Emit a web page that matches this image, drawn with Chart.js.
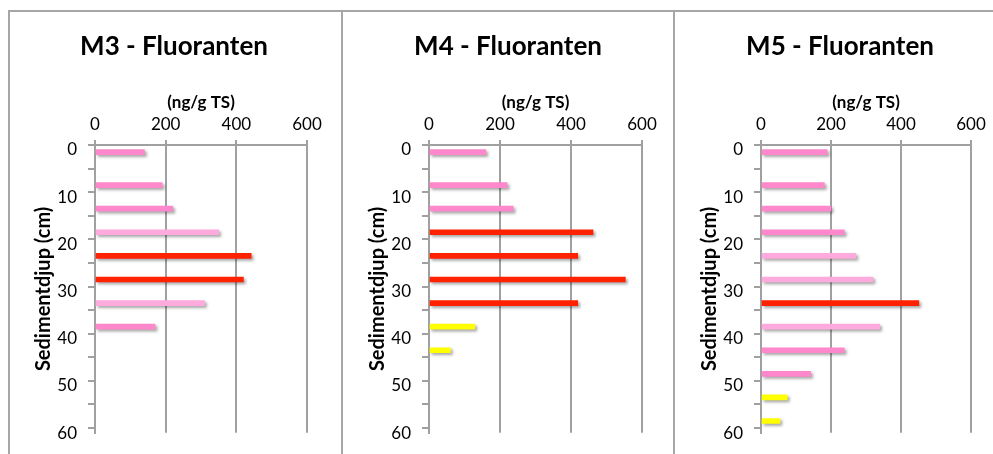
<!DOCTYPE html>
<html>
<head>
<meta charset="utf-8">
<script src="https://cdn.jsdelivr.net/npm/chart.js@4/dist/chart.umd.min.js"></script>
<style>
  html, body { margin: 0; padding: 0; background: #fff; overflow: hidden; width: 993px; height: 454px; }
  .panel { position: absolute; top: 0; width: 332px; height: 454px; }
  .line { position: absolute; background: #a6a6a6; }
</style>
</head>
<body>
<div class="panel" style="left:8px"><canvas id="c1" width="332" height="454"></canvas></div>
<div class="panel" style="left:342px"><canvas id="c2" width="332" height="454"></canvas></div>
<div class="panel" style="left:674px"><canvas id="c3" width="332" height="454"></canvas></div>
<div class="line" style="left:8px; top:10px; width:985px; height:2px"></div>
<div class="line" style="left:8px; top:10px; width:2px; height:444px"></div>
<div class="line" style="left:341px; top:10px; width:2px; height:444px"></div>
<div class="line" style="left:673px; top:10px; width:2px; height:444px"></div>
<script>
// ---- data ----
const titles = ['M3 - Fluoranten', 'M4 - Fluoranten', 'M5 - Fluoranten'];
const xAxisTitle = '(ng/g TS)';
const yAxisTitle = 'Sedimentdjup (cm)';
const xTicks = [0, 200, 400, 600];
const yTicks = [0, 10, 20, 30, 40, 50, 60];

const m3Depth = [1.5, 8.5, 13.5, 18.5, 23.5, 28.5, 33.5, 38.5];
const m3Value = [140, 190, 220, 350, 442, 420, 310, 170];
const m3Class = ['p', 'p', 'p', 'l', 'r', 'r', 'l', 'p'];

const m4Depth = [1.5, 8.5, 13.5, 18.5, 23.5, 28.5, 33.5, 38.5, 43.5];
const m4Value = [160, 220, 237, 462, 419, 553, 419, 129, 60];
const m4Class = ['p', 'p', 'p', 'r', 'r', 'r', 'r', 'y', 'y'];

const m5Depth = [1.5, 8.5, 13.5, 18.5, 23.5, 28.5, 33.5, 38.5, 43.5, 48.5, 53.5, 58.5];
const m5Value = [189, 181, 200, 238, 271, 320, 451, 339, 238, 142, 75, 54];
const m5Class = ['p', 'p', 'p', 'p', 'l', 'l', 'r', 'l', 'p', 'p', 'y', 'y'];

const classColors = { p: '#ff88cc', l: '#ffaadd', r: '#ff2200', y: '#ffff00' };

const FONT = 'Lato, "Open Sans", sans-serif';
const GRID = '#a0a0a0';

const shadowPlugin = {
  id: 'barShadow',
  beforeDatasetDraw(chart) {
    const ctx = chart.ctx;
    ctx.save();
    ctx.shadowColor = 'rgba(0,0,0,0.35)';
    ctx.shadowOffsetX = 2;
    ctx.shadowOffsetY = 2;
    ctx.shadowBlur = 3;
  },
  afterDatasetDraw(chart) { chart.ctx.restore(); }
};

function makeChart(id, title, depths, values, classes, rightSpace) {
  const data = depths.map((d, i) => ({ x: values[i], y: d }));
  return new Chart(document.getElementById(id), {
    type: 'bar',
    data: {
      datasets: [{
        data: data,
        backgroundColor: classes.map(c => classColors[c]),
        borderWidth: 0,
        barThickness: 5
      }]
    },
    plugins: [shadowPlugin],
    options: {
      responsive: false,
      animation: false,
      indexAxis: 'y',
      layout: { padding: { left: 0, right: 0, top: 0, bottom: 21 } },
      plugins: {
        legend: { display: false },
        tooltip: { enabled: false },
        title: {
          display: true, text: title, color: '#000',
          font: { family: FONT, size: 26, weight: 'bold' },
          padding: { top: 31, bottom: 0 }
        }
      },
      scales: {
        x: {
          type: 'linear', position: 'top', min: 0, max: 600,
          afterBuildTicks(s) { s.ticks = xTicks.map(v => ({ value: v })); },
          afterFit(s) { s.height = 145 - (31 + 26 * 1.2); },
          ticks: { color: '#000', font: { family: FONT, size: 17 }, padding: 5 },
          grid: { color: GRID, lineWidth: 2, tickLength: 5, drawTicks: true },
          border: { display: true, color: GRID, width: 2 },
          title: { display: true, text: xAxisTitle, color: '#000',
                   font: { family: FONT, size: 17, weight: 'bold' }, padding: { top: 30, bottom: 0 } }
        },
        y: {
          type: 'linear', position: 'left', reverse: true, min: 0, max: 61,
          offset: false,
          afterBuildTicks(s) {
            const t = [];
            for (let v = 0; v <= 60; v += 5) t.push({ value: v });
            s.ticks = t;
          },
          afterFit(s) { s.width = 87; },
          ticks: {
            color: '#000', font: { family: FONT, size: 17 }, padding: 11, labelOffset: 5,
            callback: (v) => yTicks.includes(v) ? String(v) : ''
          },
          grid: { color: GRID, lineWidth: 2, tickLength: 7, drawTicks: true, drawOnChartArea: false, offset: false },
          border: { display: true, color: GRID, width: 2 },
          title: { display: true, text: yAxisTitle, color: '#000',
                   font: { family: FONT, size: 20, weight: 'bold' }, padding: { top: 24, bottom: 0 } }
        },
        spacer: {
          type: 'linear', position: 'right', display: true,
          afterFit(s) { s.width = rightSpace; },
          ticks: { display: false },
          grid: { display: false },
          border: { display: false }
        }
      }
    }
  });
}

makeChart('c1', titles[0], m3Depth, m3Value, m3Class, 33);
makeChart('c2', titles[1], m4Depth, m4Value, m4Class, 32);
makeChart('c3', titles[2], m5Depth, m5Value, m5Class, 35);
</script>
</body>
</html>
